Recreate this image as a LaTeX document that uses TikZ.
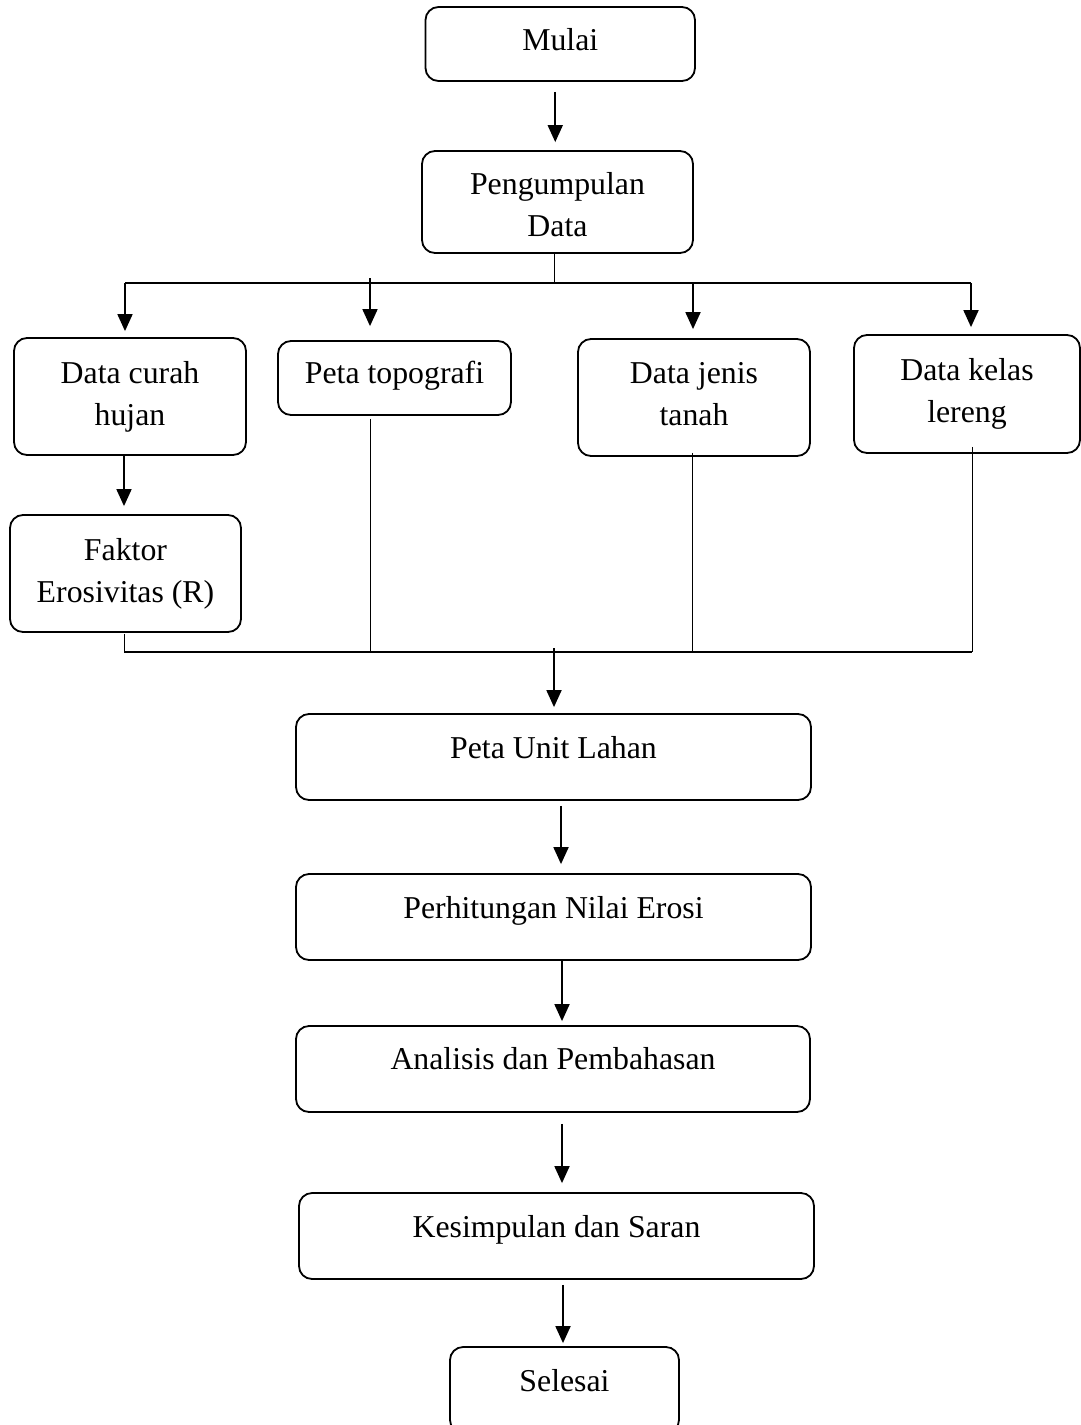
\documentclass[tikz,border=0pt]{standalone}
\usepackage{fontspec}
\setmainfont{Liberation Serif}
\usetikzlibrary{arrows.meta}
\begin{document}
\begin{tikzpicture}[x=1pt,y=-1pt,
  box/.style={draw, line width=1.8pt, rounded corners=13pt, inner sep=0pt,
    align=center, font=\fontsize{31.8}{42}\selectfont},
  bx/.style 2 args={box, minimum width=#1, minimum height=#2},
  base/.style={text height=#1, text depth=0pt},
  arr/.style={line width=1.8pt, -{Triangle[length=17pt,width=15pt]}},
  bus/.style={line width=1.6pt},
  stem/.style={line width=1pt}]
\useasboundingbox (0,0) rectangle (1081,1425);

% nodes
\node[bx={269.5pt}{74pt}, base=12pt] (mulai) at (560.25,44) {Mulai};
\node[bx={271pt}{102pt}] (peng) at (557.5,202) {\rule{0pt}{28pt}Pengumpulan\\Data};
\node[bx={232pt}{117pt}] (curah) at (130,396.5) {Data curah\\hujan};
\node[bx={233pt}{74pt}, base=10pt] (topo) at (394.5,378) {Peta topografi};
\node[bx={232pt}{117pt}] (jenis) at (694,397.5) {Data jenis\\tanah\vphantom{j}};
\node[bx={226pt}{118pt}] (lereng) at (967,394) {Data kelas\\lereng};
\node[bx={231pt}{117pt}] (faktor) at (125.5,573.5) {Faktor\\Erosivitas (R)};
\node[bx={515pt}{86pt}, base=2pt] (unit) at (553.5,757) {Peta Unit Lahan};
\node[bx={515pt}{86pt}, base=2pt] (hitung) at (553.5,917) {Perhitungan Nilai Erosi};
\node[bx={514pt}{86pt}, base=0pt] (analisis) at (553,1069) {Analisis dan Pembahasan};
\node[bx={515pt}{86pt}, base=2pt] (simpul) at (556.5,1236) {Kesimpulan dan Saran};
\node[bx={229pt}{86pt}, base=2pt] (selesai) at (564.5,1390) {Selesai};

% bus coordinates
\coordinate (ta) at (125,283);
\coordinate (tb) at (370,283);
\coordinate (tc) at (693,283);
\coordinate (td) at (971,283);
\coordinate (tm) at (554,283);
\coordinate (ua) at (124,652);
\coordinate (ub) at (370,652);
\coordinate (uc) at (692,652);
\coordinate (ud) at (972,652);
\coordinate (um) at (554,652);

% top
\draw[arr, shorten <=10pt, shorten >=8pt] ([xshift=-5pt]mulai.south) -- ([xshift=-5pt]mulai.south |- peng.north);
\draw[stem] (tm |- peng.south) -- (tm);
\draw[bus] (ta) -- (td);
\draw[arr, shorten >=6pt] (ta) -- (ta |- curah.north);
\draw[arr, shorten <=-5pt, shorten >=14pt] (tb) -- (tb |- topo.north);
\draw[arr, shorten >=9pt] (tc) -- (tc |- jenis.north);
\draw[arr, shorten >=7pt] (td) -- (td |- lereng.north);

% curah -> faktor
\draw[arr, shorten >=8pt] ([xshift=-6pt]curah.south) -- ([xshift=-6pt]curah.south |- faktor.north);

% lower bus
\draw[stem, shorten <=1pt] (ua |- faktor.south) -- (ua);
\draw[stem, shorten <=3pt] (ub |- topo.south) -- (ub);
\draw[stem, shorten <=-4pt] (uc |- jenis.south) -- (uc);
\draw[stem, shorten <=-7pt] (ud |- lereng.south) -- (ud);
\draw[bus] (ua) -- (ud);
\draw[arr, shorten <=-4pt, shorten >=6pt] (um) -- (um |- unit.north);

% lower chain
\draw[arr, shorten <=5pt, shorten >=9pt] ([xshift=7.5pt]unit.south) -- ([xshift=7.5pt]unit.south |- hitung.north);
\draw[arr, shorten >=4pt] ([xshift=8.5pt]hitung.south) -- ([xshift=8.5pt]hitung.south |- analisis.north);
\draw[arr, shorten <=11pt, shorten >=9pt] ([xshift=9pt]analisis.south) -- ([xshift=9pt]analisis.south |- simpul.north);
\draw[arr, shorten <=5pt, shorten >=3pt] ([xshift=6.5pt]simpul.south) -- ([xshift=6.5pt]simpul.south |- selesai.north);
\end{tikzpicture}
\end{document}
